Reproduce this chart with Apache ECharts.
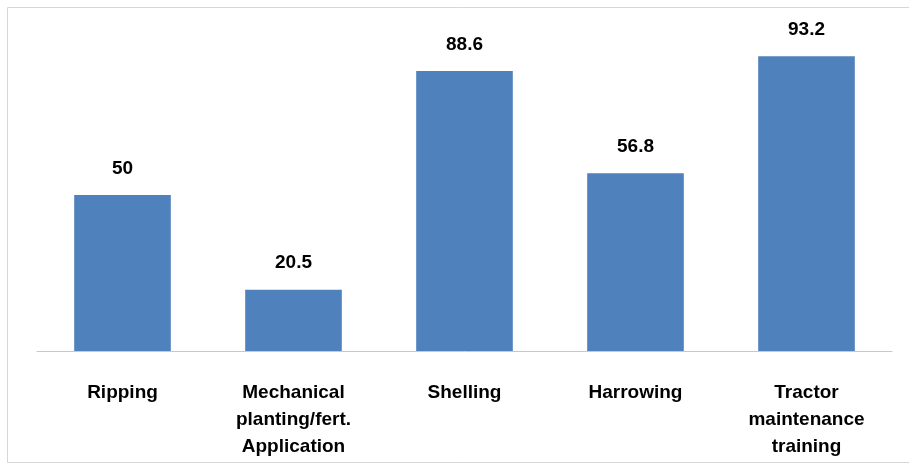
<!DOCTYPE html>
<html>
<head>
<meta charset="utf-8">
<script src="https://cdn.jsdelivr.net/npm/echarts@6/dist/echarts.min.js"></script>
<style>html,body{margin:0;padding:0;background:#fff;}#c{width:909px;height:468px;}</style>
</head>
<body>
<div id="c"></div>
<script>
const categories = ["Ripping", "Mechanical\nplanting/fert.\nApplication", "Shelling", "Harrowing", "Tractor\nmaintenance\ntraining"];
const values = [50, 20.5, 88.6, 56.8, 93.2];

const chart = echarts.init(document.getElementById('c'), null, {renderer: 'canvas'});
chart.setOption({
  backgroundColor: '#ffffff',
  animation: false,
  graphic: [{
    type: 'rect',
    shape: {x: 7.5, y: 7.5, width: 920, height: 455},
    style: {fill: 'none', stroke: '#d6d6d6', lineWidth: 1},
    silent: true
  }],
  grid: {left: 37, right: 17, top: 30, bottom: 117, containLabel: false},
  xAxis: {
    type: 'category',
    data: categories,
    axisLine: {show: true, lineStyle: {color: '#c8c8c8', width: 1}},
    axisTick: {show: false},
    axisLabel: {
      interval: 0,
      margin: 28,
      color: '#000',
      fontFamily: 'Liberation Sans',
      fontWeight: 'bold',
      fontSize: 19,
      lineHeight: 27
    }
  },
  yAxis: {
    type: 'value',
    min: 1.4,
    max: 101.4,
    show: false,
    splitLine: {show: false}
  },
  series: [{
    type: 'bar',
    data: values,
    barWidth: '56.5%',
    clip: true,
    itemStyle: {color: '#4F81BD'},
    label: {
      show: true,
      position: 'top',
      distance: 17,
      color: '#000',
      fontFamily: 'Liberation Sans',
      fontWeight: 'bold',
      fontSize: 19
    }
  }]
});
</script>
</body>
</html>
